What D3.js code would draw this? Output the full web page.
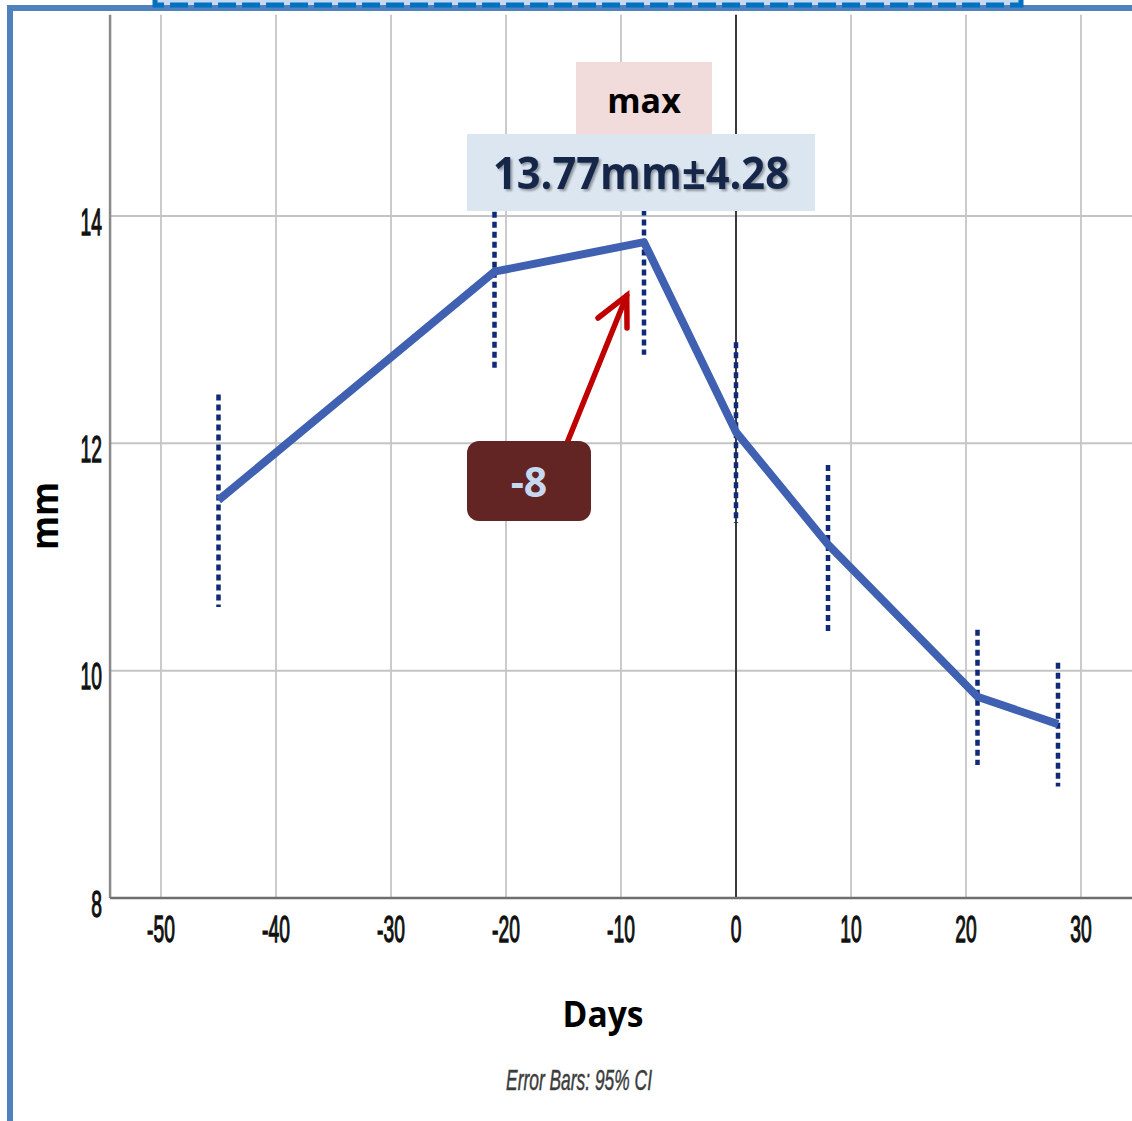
<!DOCTYPE html>
<html>
<head>
<meta charset="utf-8">
<script src="https://cdn.jsdelivr.net/npm/d3@7"></script>
<style>
  html, body { margin: 0; padding: 0; background: #fff; }
  svg { display: block; }
</style>
</head>
<body>
<div class="container"></div>
<script>
// mean diameter (mm) by day, with 95% CI
const days = [-45, -21, -8, 0, 8, 21, 28];
const meanMm = [11.50, 13.51, 13.77, 12.10, 11.11, 9.77, 9.53];
const ciLow = [10.56, 12.63, 12.78, 11.30, 10.33, 9.17, 8.98];
const ciHigh = [12.43, 14.39, 14.76, 12.89, 11.81, 10.36, 10.07];

const xTicks = [-50, -40, -30, -20, -10, 0, 10, 20, 30];
const yTicks = [8, 10, 12, 14];

const w = 1132;
const h = 1121;

const svg = d3.select('.container')
    .append('svg')
    .attr('width', w)
    .attr('height', h);

const x = d3.scaleLinear().domain([-50, 30]).range([161, 1081]);
const y = d3.scaleLinear().domain([8, 14]).range([898, 216]);

const plotLeft = x(-54.43);
const plotTop = y(15.77);
const plotBottom = y(8);

// grid
svg.append('g')
    .selectAll('line')
    .data(xTicks.filter(d => d !== 0))
    .join('line')
    .attr('x1', d => x(d)).attr('x2', d => x(d))
    .attr('y1', plotTop).attr('y2', plotBottom)
    .attr('stroke', '#cbcbcb')
    .attr('stroke-width', 2);

svg.append('g')
    .selectAll('line')
    .data(yTicks.filter(d => d !== 8))
    .join('line')
    .attr('x1', plotLeft).attr('x2', w)
    .attr('y1', d => y(d)).attr('y2', d => y(d))
    .attr('stroke', '#c4c4c4')
    .attr('stroke-width', 2);

// zero reference line
svg.append('line')
    .attr('x1', x(0)).attr('x2', x(0))
    .attr('y1', plotTop).attr('y2', plotBottom)
    .attr('stroke', '#3a3a3a')
    .attr('stroke-width', 2);

// axes lines
svg.append('line')
    .attr('x1', plotLeft).attr('x2', plotLeft)
    .attr('y1', plotTop).attr('y2', plotBottom)
    .attr('stroke', '#8a8a8a')
    .attr('stroke-width', 2.5);

svg.append('line')
    .attr('x1', plotLeft).attr('x2', w)
    .attr('y1', plotBottom).attr('y2', plotBottom)
    .attr('stroke', '#6e6e6e')
    .attr('stroke-width', 2.5);

// tick labels (condensed look)
svg.append('g')
    .selectAll('text')
    .data(xTicks)
    .join('text')
    .attr('transform', d => `translate(${x(d)}, 942) scale(0.52, 1)`)
    .attr('text-anchor', 'middle')
    .style('font-family', 'Liberation Sans, Arial, sans-serif')
    .style('font-size', '37px')
    .attr('fill', '#111')
    .attr('stroke', '#111')
    .attr('stroke-width', 1.3)
    .text(d => d);

svg.append('g')
    .selectAll('text')
    .data(yTicks)
    .join('text')
    .attr('transform', d => `translate(102, ${y(d) + 18.5}) scale(0.52, 1)`)
    .attr('text-anchor', 'end')
    .style('font-family', 'Liberation Sans, Arial, sans-serif')
    .style('font-size', '37px')
    .attr('fill', '#111')
    .attr('stroke', '#111')
    .attr('stroke-width', 1.3)
    .text(d => d);

// error bars
svg.append('g')
    .selectAll('line')
    .data(days)
    .join('line')
    .attr('x1', d => x(d)).attr('x2', d => x(d))
    .attr('y1', (d, i) => y(ciHigh[i]))
    .attr('y2', (d, i) => y(ciLow[i]))
    .attr('stroke', '#102a78')
    .attr('stroke-width', 4.5)
    .attr('stroke-dasharray', '6 4');

// mean line
const line = d3.line()
    .x((d, i) => x(d))
    .y((d, i) => y(meanMm[i]));

svg.append('path')
    .datum(days)
    .attr('d', line)
    .attr('fill', 'none')
    .attr('stroke', '#4060b2')
    .attr('stroke-width', 8)
    .attr('stroke-linejoin', 'round');

// axis titles
svg.append('text')
    .attr('x', 603)
    .attr('y', 1027)
    .attr('text-anchor', 'middle')
    .attr('textLength', 81)
    .attr('lengthAdjust', 'spacingAndGlyphs')
    .style('font-family', 'Open Sans, sans-serif')
    .style('font-weight', 'bold')
    .style('font-size', '35px')
    .attr('fill', '#000')
    .text('Days');

svg.append('text')
    .attr('transform', 'translate(58, 516) rotate(-90)')
    .attr('text-anchor', 'middle')
    .attr('textLength', 68)
    .attr('lengthAdjust', 'spacingAndGlyphs')
    .style('font-family', 'Open Sans, sans-serif')
    .style('font-weight', 'bold')
    .style('font-size', '38px')
    .attr('fill', '#000')
    .text('mm');

svg.append('text')
    .attr('transform', 'translate(579, 1090) scale(0.6, 1)')
    .attr('text-anchor', 'middle')
    .style('font-family', 'Liberation Sans, Arial, sans-serif')
    .style('font-style', 'italic')
    .style('font-size', '29px')
    .attr('fill', '#3c3c3c')
    .attr('stroke', '#3c3c3c')
    .attr('stroke-width', 0.5)
    .text('Error Bars: 95% CI');

// annotation: max box
const maxDay = days[meanMm.indexOf(d3.max(meanMm))];
const maxVal = d3.max(meanMm);

svg.append('rect')
    .attr('x', 576).attr('y', 62)
    .attr('width', 136).attr('height', 72)
    .attr('fill', '#f2dcdb');

svg.append('text')
    .attr('x', 644).attr('y', 113)
    .attr('text-anchor', 'middle')
    .style('font-family', 'Open Sans, sans-serif')
    .style('font-weight', 'bold')
    .style('font-size', '34px')
    .attr('fill', '#000')
    .text('max');

svg.append('rect')
    .attr('x', 467).attr('y', 134)
    .attr('width', 348).attr('height', 77)
    .attr('fill', '#dce6f1');

const defs = svg.append('defs');
const shadow = defs.append('filter').attr('id', 'shadow');
shadow.append('feDropShadow')
    .attr('dx', 2).attr('dy', 2)
    .attr('stdDeviation', 1.2)
    .attr('flood-color', '#000')
    .attr('flood-opacity', 0.35);

svg.append('text')
    .attr('x', 641).attr('y', 189)
    .attr('text-anchor', 'middle')
    .attr('textLength', 296)
    .attr('lengthAdjust', 'spacingAndGlyphs')
    .attr('filter', 'url(#shadow)')
    .style('font-family', 'Open Sans, sans-serif')
    .style('font-weight', 'bold')
    .style('font-size', '44px')
    .attr('fill', '#17284a')
    .text(`${maxVal.toFixed(2)}mm±4.28`);

// arrow to the peak
const arrowColor = '#c00000';
const tip = [x(-9.5), y(13.3)];
svg.append('line')
    .attr('x1', 567).attr('y1', 443)
    .attr('x2', tip[0]).attr('y2', tip[1])
    .attr('stroke', arrowColor)
    .attr('stroke-width', 5.5)
    .attr('stroke-linecap', 'round');
svg.append('path')
    .attr('d', `M598,318 L${tip[0]},${tip[1]} L627,328`)
    .attr('fill', 'none')
    .attr('stroke', arrowColor)
    .attr('stroke-width', 5.5)
    .attr('stroke-linecap', 'round')
    .attr('stroke-linejoin', 'miter');

// day label box
svg.append('rect')
    .attr('x', 467).attr('y', 441)
    .attr('width', 124).attr('height', 80)
    .attr('rx', 12)
    .attr('fill', '#632523');

svg.append('text')
    .attr('x', 529).attr('y', 497)
    .attr('text-anchor', 'middle')
    .style('font-family', 'Open Sans, sans-serif')
    .style('font-weight', 'bold')
    .style('font-size', '41px')
    .attr('fill', '#c6d9f1')
    .text(maxDay);

// slide frame
svg.append('line')
    .attr('x1', 7).attr('x2', w)
    .attr('y1', 8).attr('y2', 8)
    .attr('stroke', '#4f81bd')
    .attr('stroke-width', 6);
svg.append('line')
    .attr('x1', 10).attr('x2', 10)
    .attr('y1', 5).attr('y2', h)
    .attr('stroke', '#4f81bd')
    .attr('stroke-width', 6);

svg.append('rect')
    .attr('x', 154).attr('y', -10)
    .attr('width', 868).attr('height', 15)
    .attr('fill', '#c5d9f1');
svg.append('path')
    .attr('d', 'M155,-4 L155,5 L1021,5 L1021,-4')
    .attr('fill', 'none')
    .attr('stroke', '#0070c0')
    .attr('stroke-width', 5)
    .attr('stroke-dasharray', '18 6');
</script>
</body>
</html>
